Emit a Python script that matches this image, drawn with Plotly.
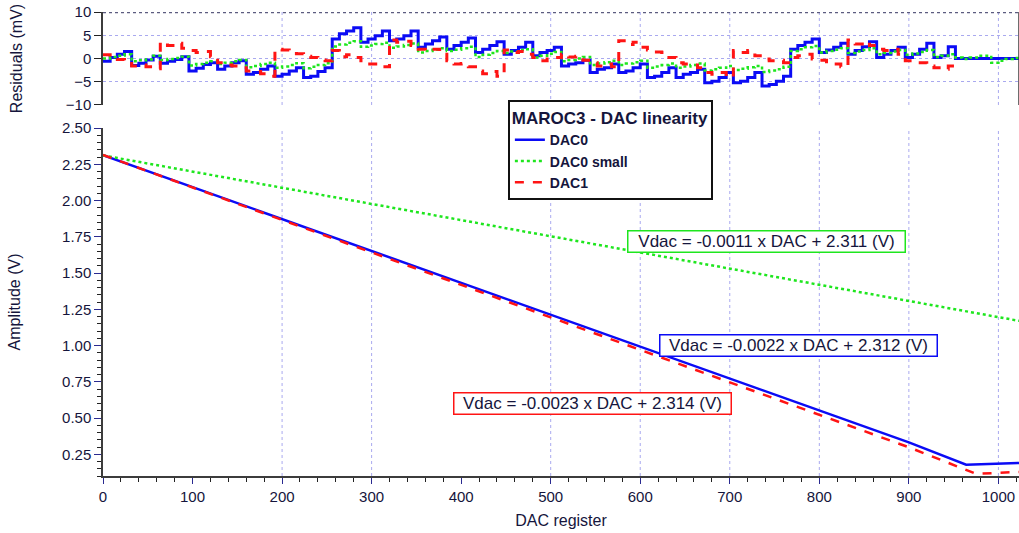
import plotly.graph_objects as go

# ---------------- data ----------------
STEP_DAC = list(range(0, 1024, 8))   # residual step positions (DAC codes)
END_DAC = 1023

RES_DAC0 = [
    -0.6, 0.2, 0.9, 1.5, -1.5, -1.0, -0.3, 0.5, -1.0, -0.6, -0.2, 0.4, -2.7, -2.1, -1.3, -0.9,
    -2.3, -1.6, -0.9, -0.5, -3.4, -3.0, -2.3, -1.6, -3.8, -3.4, -2.7, -2.0, -4.1, -3.8, -2.8, -2.0,
    4.2, 5.3, 5.9, 6.6, 3.5, 4.2, 4.9, 5.9, 3.8, 4.2, 4.9, 5.9, 2.4, 3.1, 3.8, 4.6,
    2.0, 2.8, 3.5, 4.4, 1.3, 2.0, 2.8, 3.6, 0.9, 1.7, 2.4, 3.5, 0.6, 1.3, 1.7, 2.4,
    -1.6, -1.2, -0.9, -0.4, -3.0, -2.3, -2.0, -1.2, -3.0, -2.7, -2.0, -1.2, -4.1, -3.8, -3.0, -2.0,
    -4.1, -3.4, -3.0, -2.3, -5.2, -4.9, -4.1, -3.0, -5.2, -4.9, -4.1, -3.0, -5.9, -5.6, -4.9, -3.8,
    2.0, 2.8, 3.5, 4.2, 1.3, 1.8, 2.4, 3.3, 0.9, 1.7, 2.5, 3.6, 0.2, 0.9, 1.7, 2.4,
    0.2, 0.9, 2.0, 3.3, 0.2, 0.6, 2.5, 0.0, 0.0, 0.0, 0.0, 0.0, 0.0, 0.0, 0.0, 0.0,
]
RES_DAC0_SMALL = [
    0.0, 0.3, 0.6, 0.9, -0.6, -0.4, -0.2, 0.6, -0.3, -0.1, 0.1, 0.4, -1.5, -1.2, -0.9, -0.6,
    -1.2, -0.9, -0.6, -0.3, -1.9, -1.6, -1.2, -0.9, -2.0, -1.7, -1.4, -1.0, -2.1, -1.8, -1.4, -1.0,
    2.6, 3.0, 3.4, 3.7, 2.5, 2.8, 3.1, 3.4, 2.3, 2.6, 2.9, 3.2, 1.3, 1.6, 1.9, 2.2,
    1.6, 1.9, 2.2, 2.5, 0.3, 0.8, 1.2, 1.6, 1.2, 1.5, 1.8, 2.0, 0.2, 0.6, 1.0, 1.4,
    -0.6, -0.3, 0.0, 0.3, -1.4, -1.1, -0.8, -0.5, -1.4, -1.1, -0.8, -0.5, -2.0, -1.7, -1.4, -1.1,
    -2.0, -1.7, -1.4, -1.1, -2.6, -2.3, -2.0, -1.6, -2.5, -2.2, -1.9, -1.6, -2.9, -2.6, -2.3, -1.8,
    1.6, 2.0, 2.4, 2.7, 1.3, 1.6, 1.9, 2.2, 1.2, 1.5, 1.8, 2.2, 0.9, 1.2, 1.5, 1.8,
    0.8, 1.1, 1.4, 1.8, 0.3, 0.6, 0.9, 0.2, -0.1, 0.2, 0.6, 0.6, -0.9, -0.5, -0.1, 0.1,
]
RES_DAC1 = [
    0.8, 0.3, -0.2, -0.6, -1.6, -1.4, -1.8, -2.2, 3.5, 2.8, 3.3, 2.2, 1.7, 1.3, 1.5, 0.4,
    -0.9, -1.4, -1.6, -2.0, -2.7, -2.8, -3.3, -3.8, 2.0, 1.8, 1.7, 1.0, 0.5, 0.2, -0.3, -0.5,
    1.7, 0.4, 0.8, 0.2, -0.5, -1.2, -1.2, -1.8, 4.0, 3.5, 3.7, 2.8, 2.0, 1.7, 2.0, 0.9,
    -0.5, -1.2, -1.1, -1.8, -2.7, -3.3, -2.8, -3.8, 1.8, 1.3, 1.5, 0.9, 0.2, -0.5, -0.1, 0.2,
    0.9, 0.3, 0.5, -0.4, -0.9, -1.6, -1.2, -1.8, 3.8, 3.0, 3.5, 2.4, 1.8, 1.4, 1.3, 0.2,
    -0.9, -1.2, -1.4, -2.0, -3.0, -3.4, -3.0, -4.0, 1.7, 1.3, 1.7, 0.6, -0.1, -0.5, -0.4, -0.9,
    0.2, 0.6, 0.9, -0.1, -0.4, -1.2, -1.2, -1.8, 4.0, 3.1, 3.6, 2.8, 2.0, 1.7, 2.0, 0.9,
    -0.5, -0.9, -0.9, -1.6, -2.0, -2.3, -1.6, -1.6, None, None, None, None, None, None, None, None,
]

DAC0_X = [0, 100, 200, 300, 400, 500, 600, 700, 800, 900, 964, 1023]
DAC0_V = [2.312, 2.092, 1.872, 1.652, 1.432, 1.212, 0.992, 0.772, 0.552, 0.332, 0.178, 0.190]
DAC0S_X = [0, 100, 200, 300, 400, 500, 600, 700, 800, 900, 1000, 1023]
DAC0S_V = [2.311, 2.199, 2.088, 1.976, 1.865, 1.753, 1.642, 1.530, 1.419, 1.307, 1.196, 1.170]
DAC1_X = [0, 100, 200, 300, 400, 500, 600, 700, 800, 900, 975, 1023]
DAC1_V = [2.314, 2.090, 1.866, 1.642, 1.418, 1.194, 0.970, 0.746, 0.522, 0.298, 0.115, 0.128]

X_TICKS = [0, 100, 200, 300, 400, 500, 600, 700, 800, 900, 1000]
Y_TICKS = [0.25, 0.50, 0.75, 1.00, 1.25, 1.50, 1.75, 2.00, 2.25, 2.50]
RES_TICKS = [-10, -5, 0, 5, 10]
GRID_X = [200, 300, 500, 600, 700, 800, 900, 1000]

SERIES = ["DAC0", "DAC0 small", "DAC1"]
FIT_TEXT = [
    "Vdac = -0.0022 x DAC + 2.312 (V)",
    "Vdac = -0.0011 x DAC + 2.311 (V)",
    "Vdac = -0.0023 x DAC + 2.314 (V)",
]

# ---------------- style ----------------
BLUE = "#0b0bf5"
GREEN = "#1ee61e"
RED = "#ff1414"
TXT = "#15153c"
GRID = "#a9a9ef"
AXIS = "#3c3c3c"
FONT = "Liberation Sans, Arial, sans-serif"

fig = go.Figure()

# residual panel
res_x = STEP_DAC + [END_DAC]
fig.add_trace(go.Scatter(x=res_x, y=RES_DAC0 + [RES_DAC0[-1]], xaxis="x", yaxis="y2",
                         mode="lines", line=dict(color=BLUE, width=3, shape="hv"), showlegend=False))
fig.add_trace(go.Scatter(x=res_x, y=RES_DAC0_SMALL + [RES_DAC0_SMALL[-1]], xaxis="x", yaxis="y2",
                         mode="lines", line=dict(color=GREEN, width=2.5, shape="hv", dash="dot"), showlegend=False))
fig.add_trace(go.Scatter(x=res_x, y=RES_DAC1 + [None], xaxis="x", yaxis="y2",
                         mode="lines", line=dict(color=RED, width=3, shape="hv", dash="dash"), showlegend=False,
                         connectgaps=False))

# main panel
fig.add_trace(go.Scatter(x=DAC0_X, y=DAC0_V, name=SERIES[0], mode="lines",
                         line=dict(color=BLUE, width=2.5)))
fig.add_trace(go.Scatter(x=DAC0S_X, y=DAC0S_V, name=SERIES[1], mode="lines",
                         line=dict(color=GREEN, width=2.5, dash="dot")))
fig.add_trace(go.Scatter(x=DAC1_X, y=DAC1_V, name=SERIES[2], mode="lines",
                         line=dict(color=RED, width=2.5, dash="dash")))

shapes = []
for gx in GRID_X:
    for yr in ("y domain", "y2 domain"):
        shapes.append(dict(type="line", xref="x", yref=yr, x0=gx, x1=gx, y0=0, y1=1,
                           line=dict(color=GRID, width=1, dash="dot"), layer="below"))
# top border of residual panel (dark dotted) and right edge
shapes.append(dict(type="line", xref="x", yref="y2", x0=0, x1=END_DAC, y0=10, y1=10,
                   line=dict(color="#5c5c80", width=2.5, dash="dot")))
shapes.append(dict(type="line", xref="x", yref="y2", x0=END_DAC, x1=END_DAC, y0=-10, y1=10,
                   line=dict(color=AXIS, width=1.5)))

ann_style = dict(xref="x", yref="y", showarrow=False, font=dict(family=FONT, size=17, color=TXT),
                 bgcolor="white", borderwidth=1.5, borderpad=1, width=274, height=18)
annotations = [
    dict(text=FIT_TEXT[1], x=741, y=1.72, bordercolor=GREEN, **ann_style),
    dict(text=FIT_TEXT[0], x=777, y=1.003, bordercolor=BLUE, **ann_style),
    dict(text=FIT_TEXT[2], x=547, y=0.603, bordercolor=RED, **ann_style),
]

fig.update_layout(
    width=1019, height=533,
    margin=dict(l=103, r=0, t=12, b=57),
    paper_bgcolor="white", plot_bgcolor="white",
    font=dict(family=FONT, size=15, color=TXT),
    xaxis=dict(domain=[0, 1], range=[0, END_DAC], anchor="y", tickmode="array", tickvals=X_TICKS,
               ticks="outside", ticklen=6, tickcolor="#2a2a90", tickwidth=1,
               showline=True, linecolor=AXIS, linewidth=1.5, showgrid=False, zeroline=False,
               minor=dict(tick0=0, dtick=20, ticks="outside", ticklen=4, tickcolor="#222222", showgrid=False),
               title=dict(text="DAC register", font=dict(size=16), standoff=11)),
    yaxis=dict(domain=[0, 0.75], range=[0.1, 2.5], anchor="x", tickmode="array", tickvals=Y_TICKS,
               tickformat=".2f", ticks="outside", ticklen=7, tickcolor="#2a2a90",
               showline=True, linecolor=AXIS, linewidth=1.5, showgrid=False, zeroline=False,
               minor=dict(tick0=0, dtick=0.05, ticks="outside", ticklen=4, tickcolor="#222222", showgrid=False),
               title=dict(text="Amplitude (V)", font=dict(size=16), standoff=37)),
    yaxis2=dict(domain=[0.7996, 1], range=[-10, 10], anchor="x", tickmode="array", tickvals=RES_TICKS,
                ticks="outside", ticklen=7, tickcolor="#222222",
                showline=True, linecolor=AXIS, linewidth=1.5, showgrid=True, gridcolor=GRID,
                griddash="dot", gridwidth=1, zeroline=False,
                title=dict(text="Residuals (mV)", font=dict(size=16), standoff=39)),
    legend=dict(x=0.442, y=0.81, xanchor="left", yanchor="top", bgcolor="white",
                bordercolor="#111111", borderwidth=2,
                title=dict(text="MAROC3 - DAC linearity", font=dict(size=17, weight="bold", color=TXT)),
                font=dict(size=14, weight="bold", color=TXT), tracegroupgap=0, itemwidth=30),
    shapes=shapes,
    annotations=annotations,
)

fig.write_html("out.html")
